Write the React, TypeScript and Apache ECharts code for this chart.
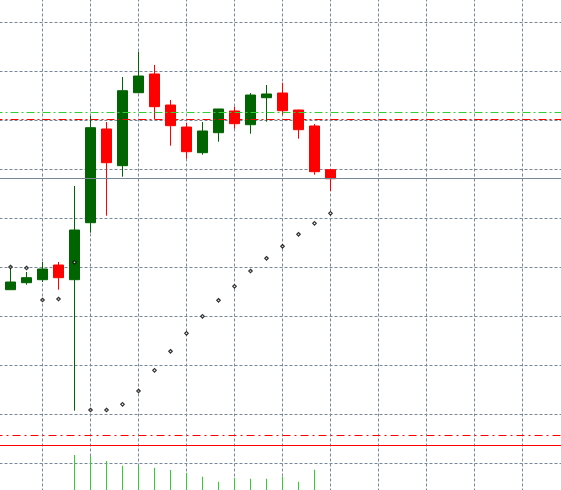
import React, { useEffect, useRef } from "react";
import * as echarts from "echarts";

// Bars (one per candle, left to right)
const opens = [45.47, 46.9, 47.51, 50.51, 47.51, 59.14, 78.27, 70.78, 85.67, 89.49, 83.16, 78.67, 73.43, 77.51, 81.94, 79.14, 84.65, 85.61, 82.14, 78.88, 69.96];
const closes = [47.04, 47.92, 49.69, 47.92, 57.65, 78.53, 71.39, 86.08, 89.08, 82.82, 78.94, 73.63, 77.86, 82.35, 79.35, 85.2, 85.41, 82.0, 78.12, 69.55, 68.12];
const highs = [50.31, 49.08, 51.12, 51.12, 66.63, 80.92, 79.69, 88.88, 94.04, 91.33, 84.18, 79.55, 79.69, 82.35, 82.82, 85.61, 87.24, 87.71, 82.2, 79.29, 69.96];
const lows = [45.47, 46.49, 47.04, 45.47, 20.78, 57.1, 60.57, 68.53, 85.67, 80.24, 74.86, 72.2, 73.02, 75.67, 78.33, 77.31, 79.76, 81.18, 76.29, 68.94, 65.61];
// Parabolic SAR
const sar = [50.1, 49.9, 43.37, 43.57, 51.06, 20.92, 20.92, 22.08, 24.8, 29.02, 32.9, 36.57, 40.04, 43.31, 46.16, 49.29, 51.88, 54.33, 56.78, 59.02, 61.06];
// Volumes (bars not visible are null)
const volumes = [null, null, null, null, 575, 562, 515, 468, 468, 448, 425, 397, 358, 308, 348, 338, 338, 358, 308, 428, null];
// Horizontal levels
const levelGreenDashDot = 81.63;
const levelRedDash = 80.2;
const levelBid = 68.16;
const levelRedDashDot = 15.71;
const levelRedSolid = 13.67;

export default function App() {
  const ref = useRef<HTMLDivElement>(null);
  useEffect(() => {
    if (!ref.current) return;
    const chart = echarts.init(ref.current, undefined, { renderer: "svg" });
    const candleData = opens.map((o, i) => [i + 1, o, closes[i], lows[i], highs[i]]);
    const sarData = sar.map((v, i) => [i + 1, v]);
    const volData = volumes.map((v, i) => [i + 1, v]);
    const gridColor = "#778899";
    chart.setOption({
      animation: false,
      backgroundColor: "#ffffff",
      grid: { left: -5.5, right: -9.5, top: -26.5, bottom: -22.5, outerBoundsMode: "none", containLabel: false },
      xAxis: {
        type: "value",
        min: 0,
        max: 36,
        interval: 3,
        axisLine: { show: false },
        axisTick: { show: false },
        axisLabel: { show: false },
        splitLine: { show: true, lineStyle: { color: gridColor, width: 1, type: [3, 2] } },
      },
      yAxis: [
        {
          type: "value",
          min: 0,
          max: 110,
          interval: 10,
          axisLine: { show: false },
          axisTick: { show: false },
          axisLabel: { show: false },
          splitLine: { show: true, lineStyle: { color: gridColor, width: 1, type: [3, 2] } },
        },
        {
          type: "value",
          min: 0,
          max: 5390,
          show: false,
          splitLine: { show: false },
        },
      ],
      series: [
        {
          type: "bar",
          yAxisIndex: 1,
          data: volData,
          barWidth: 1,
          itemStyle: { color: "#32CD32" },
          z: 1,
        },
        {
          type: "candlestick",
          data: candleData,
          encode: { x: 0, y: [1, 2, 3, 4] },
          barWidth: 10,
          itemStyle: {
            color: "#006400",
            color0: "#FF0000",
            borderColor: "#006400",
            borderColor0: "#FF0000",
            borderWidth: 1,
          },
          z: 3,
          markLine: {
            silent: true,
            symbol: "none",
            label: { show: false },
            data: [
              { yAxis: levelGreenDashDot, lineStyle: { color: "#32CD32", width: 1, type: [8, 3, 2, 3] } },
              { yAxis: levelRedDash, lineStyle: { color: "#FF0000", width: 1, type: [8, 3, 2, 3] } },
              { yAxis: levelBid, lineStyle: { color: "#778899", width: 1, type: "solid" } },
              { yAxis: levelRedDashDot, lineStyle: { color: "#FF0000", width: 1, type: [8, 4, 2, 4] } },
              { yAxis: levelRedSolid, lineStyle: { color: "#FF0000", width: 1, type: "solid" } },
            ],
          },
        },
        {
          type: "scatter",
          data: sarData,
          symbol: "diamond",
          symbolSize: 3.5,
          itemStyle: { color: "#ffffff", borderColor: "#000000", borderWidth: 1.2 },
          z: 4,
        },
      ],
    });
    return () => chart.dispose();
  }, []);
  return (
    <div
      ref={ref}
      style={{ position: "fixed", left: 0, top: 0, width: 561, height: 490, background: "#fff" }}
    />
  );
}
